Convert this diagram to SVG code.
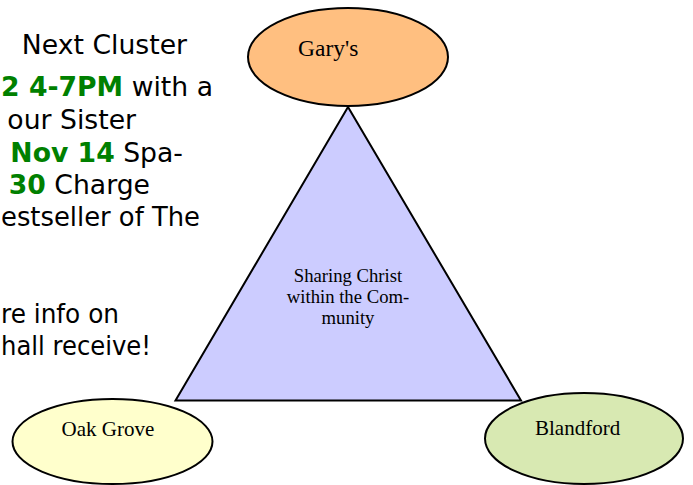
<svg xmlns="http://www.w3.org/2000/svg" width="693" height="485" viewBox="0 0 693 485">
<style>
.side{font-family:"DejaVu Sans","Liberation Sans",sans-serif;font-size:26.67px;fill:#000}
.g{font-weight:bold;fill:#008000}
.shape{stroke:#000;stroke-width:2}
.lbl{font-family:"Liberation Serif","Times New Roman",serif;fill:#000}
</style>
<rect width="693" height="485" fill="#fff"/>
<g id="side-text" class="side">
<g text-anchor="end">
<text x="187" y="54">Next Cluster</text>
<text x="213" y="96"><tspan class="g">2 4-7PM</tspan> with a</text>
<text x="136" y="129">our Sister</text>
<text x="183" y="162"><tspan class="g">Nov 14</tspan> Spa-</text>
<text x="150" y="194"><tspan class="g">30</tspan> Charge</text>
</g>
<text x="1" y="226" textLength="199" lengthAdjust="spacingAndGlyphs">estseller of The</text>
<text x="1" y="323" textLength="118" lengthAdjust="spacingAndGlyphs">re info on</text>
<text x="1" y="355" textLength="150" lengthAdjust="spacingAndGlyphs">hall receive!</text>
</g>
<g id="connectors"></g>
<g id="center">
<polygon class="shape" points="348,107 175.5,400.5 521,400.5" fill="#ccccff"/>
<text class="lbl" font-size="18.7" text-anchor="middle" x="348" y="282">Sharing Christ</text>
<text class="lbl" font-size="18.7" text-anchor="middle" x="348" y="303">within the Com-</text>
<text class="lbl" font-size="18.7" text-anchor="middle" x="348" y="324">munity</text>
</g>
<g id="garys">
<ellipse class="shape" cx="348" cy="57" rx="100" ry="49" fill="#ffbf80"/>
<text class="lbl" font-size="23.5" x="298" y="56">Gary's</text>
</g>
<g id="oak-grove">
<ellipse class="shape" cx="112.5" cy="441.5" rx="100" ry="42.5" fill="#ffffcc"/>
<text class="lbl" font-size="21" x="61.5" y="436">Oak Grove</text>
</g>
<g id="blandford">
<ellipse class="shape" cx="584" cy="438.5" rx="99" ry="45.5" fill="#d8e9b2"/>
<text class="lbl" font-size="21" x="535" y="435">Blandford</text>
</g>
</svg>
